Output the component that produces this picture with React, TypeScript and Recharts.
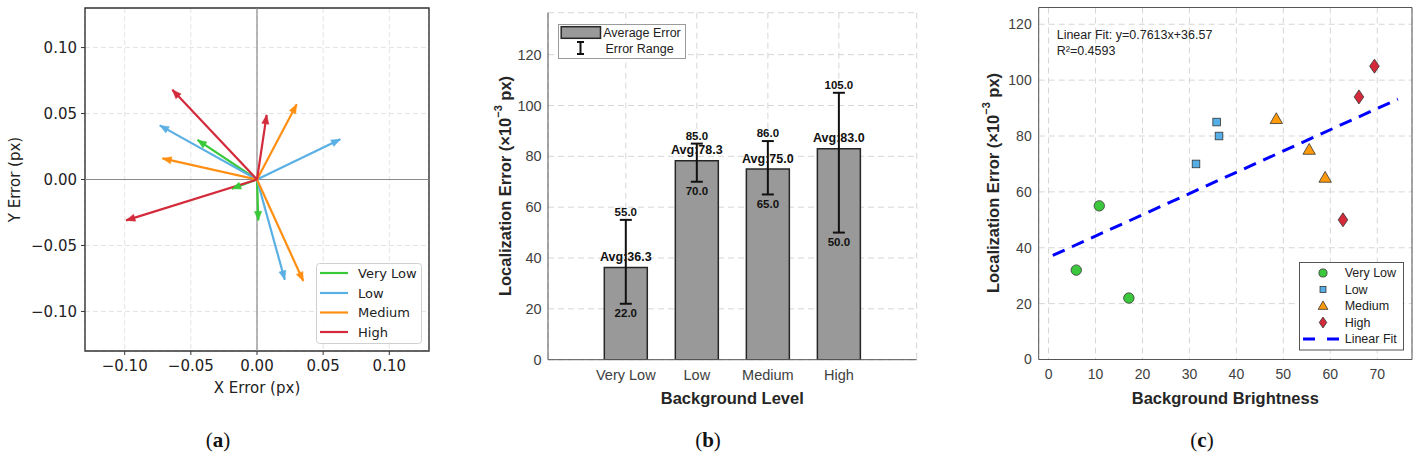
import React from "react";
import {
  ComposedChart,
  Line,
  Bar,
  Scatter,
  XAxis,
  YAxis,
  CartesianGrid,
  ReferenceLine,
  ReferenceArea,
  ErrorBar,
  LabelList,
  Legend,
  Label,
} from "recharts";

// ---------- shared ----------
const levels = ["Very Low", "Low", "Medium", "High"];
const fontA = "'DejaVu Sans', sans-serif";
const fontB = "'Liberation Sans', Arial, Helvetica, sans-serif";

// ---------- (a) error vectors (px) ----------
const arrowColors = ["#38c838", "#5aafe3", "#ff8f12", "#d32b3b"];
const errXVeryLow = [-0.045, -0.019, 0.001];
const errYVeryLow = [0.03, -0.007, -0.031];
const errXLow = [-0.0735, 0.063, 0.021];
const errYLow = [0.041, 0.0305, -0.076];
const errXMedium = [-0.0715, 0.03, 0.035];
const errYMedium = [0.016, 0.057, -0.077];
const errXHigh = [-0.064, 0.0073, -0.099];
const errYHigh = [0.068, 0.049, -0.031];
const ticksA = [-0.1, -0.05, 0, 0.05, 0.1];

// ---------- (b) error per background level (x10^-3 px) ----------
const avgErr = [36.3, 78.3, 75.0, 83.0];
const minErr = [22.0, 70.0, 65.0, 50.0];
const maxErr = [55.0, 85.0, 86.0, 105.0];
const ticksB = [0, 20, 40, 60, 80, 100, 120];

// ---------- (c) brightness vs error ----------
const brightVeryLow = [5.9, 10.8, 17.1];
const locErrVeryLow = [32, 55, 22];
const brightLow = [31.4, 35.8, 36.3];
const locErrLow = [70, 85, 80];
const brightMedium = [48.5, 55.5, 58.9];
const locErrMedium = [86, 75, 65];
const brightHigh = [62.7, 66.1, 69.4];
const locErrHigh = [50, 94, 105];
const fitX = [0.9, 74.4];
const fitY = [37.26, 93.21];
const ticksCX = [0, 10, 20, 30, 40, 50, 60, 70];
const ticksCY = [0, 20, 40, 60, 80, 100, 120];
const markerColors = ["#3cc83c", "#55aee6", "#ff9a0a", "#d42a3a"];
const markerKinds = ["circle", "square", "triangle", "diamond"];

// ---------- derived tables ----------
const vectorSets = [
  { dx: errXVeryLow, dy: errYVeryLow },
  { dx: errXLow, dy: errYLow },
  { dx: errXMedium, dy: errYMedium },
  { dx: errXHigh, dy: errYHigh },
];
const arrows = vectorSets.flatMap((s, li) =>
  s.dx.map((dx, i) => ({
    key: `${levels[li]}-${i}`,
    color: arrowColors[li],
    pts: [
      { x: 0, y: 0 },
      { x: dx, y: s.dy[i] },
    ],
  }))
);

const barData = levels.map((name, i) => ({
  name,
  avg: avgErr[i],
  min: minErr[i],
  max: maxErr[i],
  range: [avgErr[i] - minErr[i], maxErr[i] - avgErr[i]],
}));

const scatterSets = [
  { x: brightVeryLow, y: locErrVeryLow },
  { x: brightLow, y: locErrLow },
  { x: brightMedium, y: locErrMedium },
  { x: brightHigh, y: locErrHigh },
].map((s, li) => ({
  name: levels[li],
  kind: markerKinds[li],
  color: markerColors[li],
  pts: s.x.map((x, i) => ({ x, y: s.y[i] })),
}));
const fitData = fitX.map((x, i) => ({ x, y: fitY[i] }));

const fmtA = (v: number) => v.toFixed(2).replace("-", "\u2212");

// ---------- small renderers ----------
function arrowHead(color: string) {
  return (p: any) => {
    if (p.index !== 1) return <g key={`d${p.index}`} />;
    const { cx, cy, payload } = p;
    const ang = Math.atan2(-payload.y, payload.x);
    const len = 9;
    const hw = 3.6;
    const c = Math.cos(ang);
    const s = Math.sin(ang);
    const bx = cx - len * c;
    const by = cy - len * s;
    const pts = `${cx},${cy} ${bx - hw * s},${by + hw * c} ${bx + hw * s},${by - hw * c}`;
    return <polygon key={`d${p.index}`} points={pts} fill={color} stroke={color} strokeWidth={0.5} />;
  };
}

function Marker({ kind, cx, cy, color, k = 1 }: { kind: string; cx: number; cy: number; color: string; k?: number }) {
  const stroke = "#333";
  const sw = 0.8;
  if (kind === "circle") return <circle cx={cx} cy={cy} r={5.2 * k} fill={color} stroke={stroke} strokeWidth={sw} />;
  if (kind === "square") {
    const h = 3.8 * k;
    return <rect x={cx - h} y={cy - h} width={2 * h} height={2 * h} fill={color} stroke={stroke} strokeWidth={sw} />;
  }
  if (kind === "triangle") {
    const pts = `${cx},${cy - 6.5 * k} ${cx - 6.2 * k},${cy + 4.3 * k} ${cx + 6.2 * k},${cy + 4.3 * k}`;
    return <polygon points={pts} fill={color} stroke={stroke} strokeWidth={sw} />;
  }
  const pts = `${cx},${cy - 7 * k} ${cx + 4.8 * k},${cy} ${cx},${cy + 7 * k} ${cx - 4.8 * k},${cy}`;
  return <polygon points={pts} fill={color} stroke={stroke} strokeWidth={sw} />;
}

function yLabelSup(cx: number, cy: number) {
  return () => (
    <text
      x={cx}
      y={cy}
      transform={`rotate(-90 ${cx} ${cy})`}
      textAnchor="middle"
      dominantBaseline="central"
      fontFamily={fontB}
      fontWeight="bold"
      fontSize={16.5}
      fill="#262626"
    >
      Localization Error (×10
      <tspan fontSize={11} dy={-7}>
        −3
      </tspan>
      <tspan dy={7}> px)</tspan>
    </text>
  );
}

function plainLabel(cx: number, cy: number, text: string, opts: any) {
  return () => (
    <text
      x={cx}
      y={cy}
      transform={opts.rotate ? `rotate(-90 ${cx} ${cy})` : undefined}
      textAnchor="middle"
      dominantBaseline="central"
      fontFamily={opts.family}
      fontWeight={opts.weight || "normal"}
      fontSize={opts.size}
      fill={opts.fill || "#222"}
    >
      {text}
    </text>
  );
}

const avgLabel = (p: any) => {
  const vb = p.viewBox || p;
  const x = (p.x ?? vb.x) + (p.width ?? vb.width) / 2;
  const y = p.y ?? vb.y;
  return (
    <text x={x} y={y - 6.5} textAnchor="middle" fontFamily={fontB} fontWeight="bold" fontSize={12.5} fill="#111">
      {`Avg:${Number(p.value).toFixed(1)}`}
    </text>
  );
};

const maxLabel = (p: any) => {
  const vb = p.viewBox || p;
  const x = p.x ?? vb.x;
  const y = p.y ?? vb.y;
  return (
    <text x={x} y={y - 4} textAnchor="middle" fontFamily={fontB} fontWeight="bold" fontSize={11.5} fill="#111">
      {Number(p.value).toFixed(1)}
    </text>
  );
};

const minLabel = (p: any) => {
  const vb = p.viewBox || p;
  const x = p.x ?? vb.x;
  const y = p.y ?? vb.y;
  return (
    <text x={x} y={y + 13.3} textAnchor="middle" fontFamily={fontB} fontWeight="bold" fontSize={11.5} fill="#111">
      {Number(p.value).toFixed(1)}
    </text>
  );
};

const fitNote = (p: any) => {
  const vb = p.viewBox || { x: 0, y: 0 };
  return (
    <g fontFamily={fontB} fontSize={12.5} fill="#222">
      <text x={vb.x + 18} y={vb.y + 31}>
        Linear Fit: y=0.7613x+36.57
      </text>
      <text x={vb.x + 18} y={vb.y + 47}>
        R²=0.4593
      </text>
    </g>
  );
};

// ---------- legends ----------
const legendRowsA = [10, 30, 49.5, 69];
const LegendA = () => (
  <svg width={107} height={82} style={{ display: "block" }}>
    <rect x={0.5} y={0.5} width={105} height={80} rx={3} fill="#fff" fillOpacity={0.85} stroke="#d0d0d0" />
    {levels.map((name, i) => (
      <g key={name}>
        <line x1={4} x2={32} y1={legendRowsA[i]} y2={legendRowsA[i]} stroke={arrowColors[i]} strokeWidth={2.2} />
        <text x={42} y={legendRowsA[i]} dominantBaseline="central" fontFamily={fontA} fontSize={13} fill="#222">
          {name}
        </text>
      </g>
    ))}
  </svg>
);

const LegendB = () => (
  <svg width={128} height={35} style={{ display: "block" }}>
    <rect x={0.5} y={0.5} width={127} height={34} fill="#fff" stroke="#9a9a9a" />
    <rect x={3.2} y={2.7} width={39.3} height={11.6} fill="#999" stroke="#262626" strokeWidth={1.5} />
    <text x={45.2} y={8.5} dominantBaseline="central" fontFamily={fontB} fontSize={12.5} fill="#222">
      Average Error
    </text>
    <g stroke="#111" strokeWidth={2}>
      <line x1={22.5} x2={22.5} y1={18} y2={30} />
      <line x1={19} x2={26} y1={18} y2={18} />
      <line x1={19} x2={26} y1={30} y2={30} />
    </g>
    <text x={47.5} y={25} dominantBaseline="central" fontFamily={fontB} fontSize={12.5} fill="#222">
      Error Range
    </text>
  </svg>
);

const legendRowsC = [11, 27.5, 44, 60.5, 77];
const LegendC = () => (
  <svg width={105} height={89} style={{ display: "block" }}>
    <rect x={0.5} y={0.5} width={104} height={87.5} fill="#fff" stroke="#555" />
    {scatterSets.map((s, i) => (
      <g key={s.name}>
        <Marker kind={s.kind} cx={24} cy={legendRowsC[i]} color={s.color} k={0.78} />
        <text x={45.7} y={legendRowsC[i]} dominantBaseline="central" fontFamily={fontB} fontSize={12.5} fill="#222">
          {s.name}
        </text>
      </g>
    ))}
    <line x1={4} x2={40} y1={legendRowsC[4]} y2={legendRowsC[4]} stroke="#0000ff" strokeWidth={3} strokeDasharray="12 12" />
    <text x={45.7} y={legendRowsC[4]} dominantBaseline="central" fontFamily={fontB} fontSize={12.5} fill="#222">
      Linear Fit
    </text>
  </svg>
);

const tickA = { fill: "#222", fontSize: 15, fontFamily: fontA };
const tickBC = { fill: "#404040", fontSize: 14.5, fontFamily: fontB };
const frameLine = { stroke: "#555", strokeWidth: 1 };

function Caption({ letter, cx }: { letter: string; cx: number }) {
  return (
    <div
      style={{
        position: "absolute",
        left: cx - 30,
        top: 427,
        width: 60,
        textAlign: "center",
        fontFamily: "'Liberation Serif', 'DejaVu Serif', serif",
        fontSize: 21,
        lineHeight: "26px",
        color: "#111",
      }}
    >
      (<b>{letter}</b>)
    </div>
  );
}

export default function App() {
  return (
    <div style={{ position: "absolute", left: 0, top: 0, width: 1418, height: 459, background: "#fff", overflow: "hidden" }}>
      {/* (a) */}
      <div style={{ position: "absolute", left: 0, top: 0 }}>
        <ComposedChart width={440} height={420} margin={{ top: 8, right: 11, left: 8, bottom: 9 }}>
          <CartesianGrid stroke="#e4e4e4" strokeDasharray="5 3" />
          <XAxis
            type="number"
            dataKey="x"
            domain={[-0.13, 0.13]}
            ticks={ticksA}
            allowDataOverflow
            tickFormatter={fmtA}
            height={60}
            tickSize={4}
            tickMargin={5}
            axisLine={false}
            stroke="#333"
            tick={tickA}
          >
            <Label content={plainLabel(257, 388, "X Error (px)", { family: fontA, size: 15 })} />
          </XAxis>
          <YAxis
            type="number"
            domain={[-0.13, 0.13]}
            ticks={ticksA}
            allowDataOverflow
            tickFormatter={fmtA}
            width={77}
            tickSize={4}
            tickMargin={4}
            axisLine={false}
            stroke="#333"
            tick={tickA}
          >
            <Label content={plainLabel(15, 179.5, "Y Error (px)", { family: fontA, size: 15, rotate: true })} />
          </YAxis>
          <ReferenceLine x={0} stroke="#8a8a8a" strokeWidth={1.2} />
          <ReferenceLine y={0} stroke="#8a8a8a" strokeWidth={1.2} />
          {arrows.map((a) => (
            <Line
              key={a.key}
              data={a.pts}
              dataKey="y"
              stroke={a.color}
              strokeWidth={2.2}
              dot={arrowHead(a.color)}
              activeDot={false}
              isAnimationActive={false}
              legendType="none"
            />
          ))}
          <ReferenceArea x1={-0.13} x2={0.13} y1={-0.13} y2={0.13} fill="none" stroke="#333" strokeWidth={1.4} />
          <Legend
            layout="vertical"
            align="center"
            verticalAlign="middle"
            content={() => <LegendA />}
            wrapperStyle={{ left: 316, top: 263, width: 107, height: 82 }}
          />
        </ComposedChart>
      </div>

      {/* (b) */}
      <div style={{ position: "absolute", left: 480, top: 0 }}>
        <ComposedChart width={460} height={420} data={barData} margin={{ top: 12.7, right: 23.3, left: 8, bottom: 10.3 }}>
          <CartesianGrid stroke="#d6d6d6" strokeDasharray="6 4" />
          <XAxis
            dataKey="name"
            type="category"
            padding={{ left: 42.3, right: 42.3 }}
            interval={0}
            height={50}
            tickSize={0}
            tickMargin={10}
            axisLine={frameLine}
            tickLine={false}
            tick={tickBC}
          >
            <Label content={plainLabel(252.3, 398, "Background Level", { family: fontB, size: 16.5, weight: "bold", fill: "#262626" })} />
          </XAxis>
          <XAxis
            xAxisId="top"
            orientation="top"
            dataKey="name"
            type="category"
            height={0}
            tick={false}
            tickLine={false}
            axisLine={frameLine}
          />
          <YAxis
            type="number"
            domain={[0, 136.5]}
            ticks={ticksB}
            allowDataOverflow
            width={60}
            tickSize={0}
            tickMargin={6.3}
            axisLine={frameLine}
            tickLine={false}
            tick={tickBC}
          >
            <Label content={yLabelSup(25, 186)} />
          </YAxis>
          <YAxis
            yAxisId="right"
            orientation="right"
            type="number"
            domain={[0, 136.5]}
            allowDataOverflow
            width={0}
            tick={false}
            tickLine={false}
            axisLine={frameLine}
          />
          <Bar dataKey="avg" barSize={43} fill="#999999" stroke="#262626" strokeWidth={1.5} isAnimationActive={false}>
            <ErrorBar dataKey="range" width={6} stroke="#111" strokeWidth={2} direction="y" />
            <LabelList dataKey="avg" content={avgLabel} />
          </Bar>
          <Line dataKey="max" stroke="none" dot={false} activeDot={false} isAnimationActive={false} legendType="none">
            <LabelList dataKey="max" content={maxLabel} />
          </Line>
          <Line dataKey="min" stroke="none" dot={false} activeDot={false} isAnimationActive={false} legendType="none">
            <LabelList dataKey="min" content={minLabel} />
          </Line>
          <Legend
            layout="vertical"
            align="center"
            verticalAlign="middle"
            content={() => <LegendB />}
            wrapperStyle={{ left: 77.5, top: 24, width: 128, height: 35 }}
          />
        </ComposedChart>
      </div>

      {/* (c) */}
      <div style={{ position: "absolute", left: 960, top: 0 }}>
        <ComposedChart width={458} height={420} margin={{ top: 7.5, right: 6, left: 8, bottom: 10.5 }}>
          <CartesianGrid stroke="#d6d6d6" strokeDasharray="6 4" />
          <XAxis
            type="number"
            dataKey="x"
            domain={[-2.1, 77.4]}
            ticks={ticksCX}
            allowDataOverflow
            height={50}
            tickSize={0}
            tickMargin={10}
            axisLine={false}
            tickLine={false}
            tick={{ ...tickBC, fontSize: 14 }}
          >
            <Label content={plainLabel(265.3, 398, "Background Brightness", { family: fontB, size: 16.5, weight: "bold", fill: "#262626" })} />
          </XAxis>
          <YAxis
            type="number"
            dataKey="y"
            domain={[0, 126]}
            ticks={ticksCY}
            allowDataOverflow
            width={70.7}
            tickSize={0}
            tickMargin={7}
            axisLine={false}
            tickLine={false}
            tick={{ ...tickBC, fontSize: 14 }}
          >
            <Label content={yLabelSup(33, 183)} />
          </YAxis>
          <Line
            data={fitData}
            dataKey="y"
            stroke="#0000ff"
            strokeWidth={3}
            strokeDasharray="13 8"
            dot={false}
            activeDot={false}
            isAnimationActive={false}
            legendType="none"
          />
          {scatterSets.map((s) => (
            <Scatter
              key={s.name}
              name={s.name}
              data={s.pts}
              dataKey="y"
              isAnimationActive={false}
              shape={(p: any) => <Marker kind={s.kind} cx={p.cx} cy={p.cy} color={s.color} />}
            />
          ))}
          <ReferenceArea x1={-2.1} x2={77.4} y1={0} y2={126} fill="none" stroke="#555" strokeWidth={1}>
            <Label content={fitNote} />
          </ReferenceArea>
          <Legend
            layout="vertical"
            align="center"
            verticalAlign="middle"
            content={() => <LegendC />}
            wrapperStyle={{ left: 339.3, top: 262.3, width: 105, height: 89 }}
          />
        </ComposedChart>
      </div>

      <Caption letter="a" cx={218} />
      <Caption letter="b" cx={708} />
      <Caption letter="c" cx={1202} />
    </div>
  );
}
